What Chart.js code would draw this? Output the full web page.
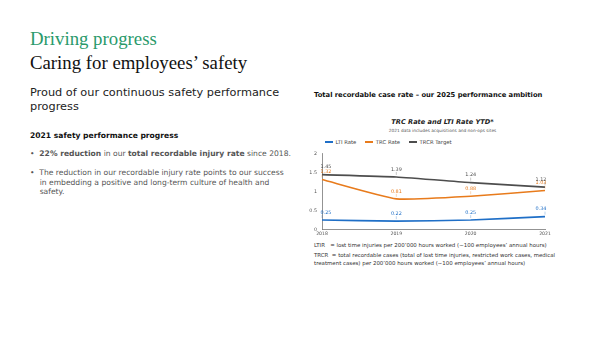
<!DOCTYPE html>
<html>
<head>
<meta charset="utf-8">
<script src="https://cdn.jsdelivr.net/npm/chart.js@4/dist/chart.umd.min.js"></script>
<style>
  html, body { margin: 0; padding: 0; background: #fff; }
  body { width: 600px; height: 337px; position: relative; overflow: hidden; font-family: "DejaVu Sans", Verdana, sans-serif; }
  .abs { position: absolute; white-space: nowrap; }
  .h1 { font-family: "Liberation Serif", "Times New Roman", serif; font-size: 18.8px; left: 30px; }
  .green { color: #2a9a6b; }
  .lead { left: 30px; font-size: 11.3px; color: #222; line-height: 14px; }
  .sub { left: 30px; font-size: 7.6px; font-weight: bold; color: #111; }
  .bul { left: 30px; font-size: 7.6px; color: #555; line-height: 9.7px; }
  .bul b { font-weight: bold; }
  .ctitle { left: 314px; font-size: 6.75px; font-weight: bold; color: #111; }
  .note { left: 314px; font-size: 5.45px; color: #333; line-height: 8px; }
  .ttl { left: 0; width: 885px; text-align: center; color: #222; }
  #legend { position: absolute; left: 325px; top: 138px; height: 8px; display: flex; align-items: center; font-size: 5.3px; color: #444; }
  #legend .it { display: flex; align-items: center; margin-right: 9px; }
  #legend .sw { width: 8px; height: 1.3px; margin-right: 2.5px; }
  #wrap { position: absolute; left: 300px; top: 146px; width: 260px; height: 93px; }
</style>
</head>
<body>
<div class="abs h1 green" style="top:28px;">Driving progress</div>
<div class="abs h1" style="top:52px;color:#111;">Caring for employees’ safety</div>
<div class="abs lead" style="top:86px;">Proud of our continuous safety performance<br>progress</div>
<div class="abs sub" style="top:131px;">2021 safety performance progress</div>
<div class="abs bul green" style="top:149px;">•&nbsp;&nbsp;<b>22% reduction</b> in our <b>total recordable injury rate</b> since 2018.</div>
<div class="abs bul" style="top:168px;">•&nbsp;&nbsp;The reduction in our recordable injury rate points to our success<br>&nbsp;&nbsp;&nbsp;&nbsp;in embedding a positive and long-term culture of health and<br>&nbsp;&nbsp;&nbsp;&nbsp;safety.</div>
<div class="abs ctitle" style="top:91px;">Total recordable case rate – our 2025 performance ambition</div>
<div class="abs ttl" style="top:118px;font-size:6.6px;font-weight:bold;font-style:italic;">TRC Rate and LTI Rate YTD*</div>
<div class="abs ttl" style="top:128px;font-size:4.3px;color:#555;">2021 data includes acquisitions and non-ops sites</div>
<div id="legend"></div>
<div id="wrap"><canvas id="c"></canvas></div>
<div class="abs note" style="top:241px;">LTIR&nbsp;&nbsp;&nbsp;= lost time injuries per 200’000 hours worked (~100 employees’ annual hours)</div>
<div class="abs note" style="top:251px;">TRCR&nbsp;&nbsp;= total recordable cases (total of lost time injuries, restricted work cases, medical<br>treatment cases) per 200’000 hours worked (~100 employees’ annual hours)</div>
<script>
// Years on the x axis
const years = ['2018', '2019', '2020', '2021'];
// Lost time injury rate
const ltiRate = [0.25, 0.22, 0.25, 0.34];
// Total recordable case rate
const trcRate = [1.32, 0.81, 0.88, 1.03];
// Total recordable case rate target
const trcrTarget = [1.45, 1.39, 1.24, 1.12];
// Y axis ticks
const yTicks = [0, 0.5, 1, 1.5, 2];

const BLUE = '#1f6fc7', ORANGE = '#e87b1c', GREY = '#4d4d4d';

// Small value labels above every point, with a short leader line
const valueLabels = {
  id: 'valueLabels',
  afterDatasetsDraw(chart) {
    const ctx = chart.ctx;
    ctx.save();
    ctx.font = '4.9px "DejaVu Sans", sans-serif';
    ctx.textAlign = 'center';
    ctx.textBaseline = 'bottom';
    chart.data.datasets.forEach((ds, i) => {
      const meta = chart.getDatasetMeta(i);
      meta.data.forEach((pt, j) => {
        let x = pt.x;
        if (j === 0) x += 4;
        if (j === meta.data.length - 1) x -= 4;
        ctx.strokeStyle = ds.borderColor;
        ctx.globalAlpha = 0.5;
        ctx.lineWidth = 0.6;
        ctx.beginPath();
        ctx.moveTo(pt.x, pt.y - 2);
        ctx.lineTo(pt.x, pt.y - 5);
        ctx.stroke();
        ctx.globalAlpha = 1;
        ctx.fillStyle = ds.borderColor;
        ctx.fillText(ds.data[j].toFixed(2), x, pt.y - 5);
      });
    });
    ctx.restore();
  }
};

const chart = new Chart(document.getElementById('c'), {
  type: 'line',
  data: {
    labels: years,
    datasets: [
      { label: 'LTI Rate', data: ltiRate, borderColor: BLUE, backgroundColor: BLUE },
      { label: 'TRC Rate', data: trcRate, borderColor: ORANGE, backgroundColor: ORANGE },
      { label: 'TRCR Target', data: trcrTarget, borderColor: GREY, backgroundColor: GREY }
    ]
  },
  options: {
    responsive: true,
    maintainAspectRatio: false,
    animation: false,
    devicePixelRatio: 1,
    elements: {
      line: { borderWidth: 1.6, tension: 0.15 },
      point: { radius: 0 }
    },
    layout: { padding: { left: 0, right: 15, top: 5, bottom: 0 } },
    plugins: {
      legend: { display: false },
      tooltip: { enabled: false }
    },
    scales: {
      x: {
        grid: { display: false, drawTicks: false },
        border: { display: true, color: '#777', width: 0.8 },
        ticks: { color: '#555', font: { family: 'DejaVu Sans', size: 4.6 }, padding: 2, maxRotation: 0 },
        offset: false
      },
      y: {
        min: 0, max: 2,
        afterBuildTicks(scale) { scale.ticks = yTicks.map(v => ({ value: v })); },
        afterFit(scale) { scale.width = 22; },
        grid: { display: false, drawTicks: false },
        border: { display: true, color: '#777', width: 0.8 },
        ticks: {
          color: '#555',
          font: { family: 'DejaVu Sans', size: 4.8 },
          padding: 5,
          callback: v => String(v)
        }
      }
    }
  },
  plugins: [valueLabels]
});

// Legend built from the chart's datasets
const legend = document.getElementById('legend');
chart.data.datasets.forEach(ds => {
  const it = document.createElement('div');
  it.className = 'it';
  const sw = document.createElement('span');
  sw.className = 'sw';
  sw.style.background = ds.borderColor;
  it.appendChild(sw);
  it.appendChild(document.createTextNode(ds.label));
  legend.appendChild(it);
});
</script>
</body>
</html>
